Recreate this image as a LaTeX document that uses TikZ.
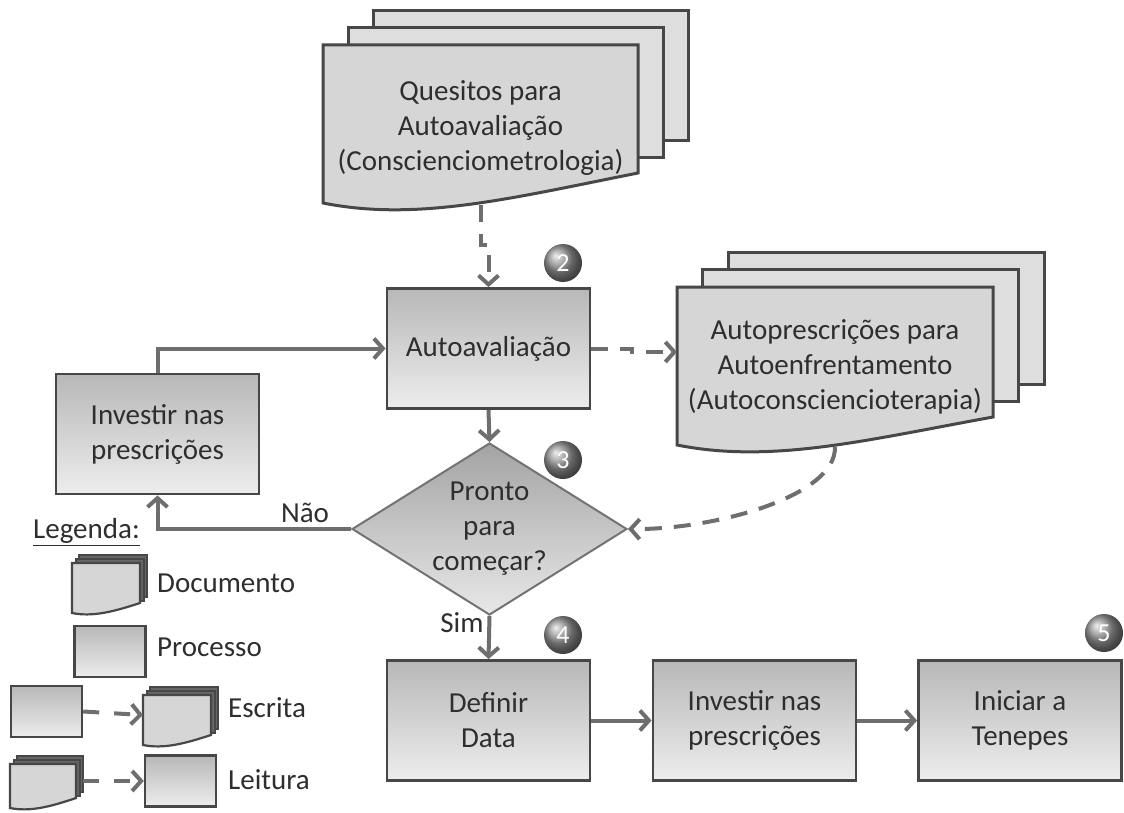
\documentclass[tikz,border=0pt]{standalone}
\usepackage{fontspec}
\setmainfont{Carlito}
\usetikzlibrary{arrows.meta,shapes.geometric,calc}
\newcommand{\mainfs}{\fontsize{29}{35}\selectfont}
\newcommand{\docstack}[8]{% #1 name, #2 L, #3 T, #4 W, #5 Hl, #6 Hr, #7 dx, #8 dy
  \foreach \k in {2,1}{
    \filldraw[docback] ({#2+\k*#7},{#3+\k*#8}) rectangle ++(#4,{#6+2});
  }
  \filldraw[docfront] (#2,#3) -- ++(#4,0) -- ++(0,#6)
    .. controls ({#2+0.6*#4},{#3+#5-0.016*#4}) and ({#2+0.3*#4},{#3+#5+0.06*#4}) .. (#2,{#3+#5}) -- cycle;
  \coordinate (#1-b) at ({#2+0.5*#4},{#3+#5+2});
  \coordinate (#1-w) at (#2,{#3+0.5*#6});
  \coordinate (#1-e) at ({#2+#4+2*#7},{#3+0.5*#6});
}
\begin{document}
\begin{tikzpicture}[x=1pt,y=-1pt,
  linecol/.style={draw=black!57},
  arr/.style={linecol, line width=4pt, -{Straight Barb[length=9pt,width=20pt]}},
  dasharr/.style={arr, dash pattern=on 17pt off 12pt},
  proc/.style={rectangle, draw=black!72, line width=2.8pt, top color=black!28, bottom color=black!7,
    minimum width=203pt, minimum height=120pt, inner sep=0pt, align=center, text=black!82, font=\mainfs},
  lproc/.style={proc, minimum width=71pt, minimum height=51pt, line width=2.4pt},
  dec/.style={diamond, draw=black!55, line width=2pt, top color=black!36, bottom color=black!9,
    minimum width=275pt, minimum height=172pt, shape aspect=1.6, inner sep=0pt, align=center,
    text=black!82, font=\mainfs},
  docback/.style={draw=black!72, line width=3pt, fill=black!13},
  docfront/.style={draw=black!72, line width=3pt, fill=black!16},
  doctext/.style={align=center, text=black!82, font=\mainfs, inner sep=0pt},
  lbl/.style={text=black!82, font=\mainfs, inner sep=0pt},
  ball/.style={circle, shading=ball, ball color=black!42, minimum size=38pt, inner sep=0pt,
    text=white, font=\fontsize{26}{26}\selectfont}
]
\fill[white] (0,0) rectangle (1124,813);
\useasboundingbox (0,0) rectangle (1124,813);

% documents
\docstack{ques}{323}{45}{315}{158}{128}{25}{-17}
\node[doctext] (quest) at (480.5,128) {Quesitos para\\Autoavaliação\\(Conscienciometrologia)};
\docstack{presc}{677}{287}{316}{158}{130}{25.5}{-17.5}
\node[doctext] (presct) at (835,367) {Autoprescrições para\\Autoenfrentamento\\(Autoconsciencioterapia)};

% process nodes
\node[proc] (aval) at (488.5,348.5) {Autoavaliação};
\node[proc] (inv1) at (157.5,434) {Investir nas\\prescrições};
\node[dec] (dia) at (489.5,529) {Pronto\\para\\começar?};
\node[proc] (def) at (488.5,720.5) {Definir\\Data};
\node[proc] (inv2) at (754.5,720.5) {Investir nas\\prescrições};
\node[proc] (ini) at (1020,720.5) {Iniciar a\\Tenepes};

% number balls
\node[ball] (n2) at (563,263) {2};
\node[ball] (n3) at (563,460) {3};
\node[ball] (n4) at (563,635) {4};
\node[ball] (n5) at (1104,633) {5};

% connectors
\draw[dasharr] (ques-b) -- ++(0,40) -| (aval.north);
\draw[dasharr] (aval.east) -- ++(41,0) |- (presc-w);
\draw[dasharr] (presc-b) .. controls (836,497) and (712,530) .. (dia.east);
\draw[arr] (aval.south) -- (dia.north);
\draw[arr] (dia.west) -| (inv1.south);
\draw[arr] (inv1.north) |- (aval.west);
\draw[arr] (dia.south) -- (def.north);
\draw[arr] (def.east) -- (inv2.west);
\draw[arr] (inv2.east) -- (ini.west);
\node[lbl] (nao) at (305,513) {Não};
\node[lbl] (sim) at (462,623) {Sim};

% legend
\node[lbl, anchor=west] (leg) at (33,532) {\underline{Legenda:}};
\begin{scope}[docback/.style={draw=black!72, line width=2pt, fill=black!60},
              docfront/.style={draw=black!72, line width=2.2pt, fill=black!16}]
  \docstack{ldoc}{72}{563}{68}{50}{40}{3.5}{-4}
  \docstack{lesd}{143}{695}{68}{50}{40}{3.5}{-4}
  \docstack{llei}{10}{764}{66}{44}{34}{3.5}{-4}
\end{scope}
\node[lbl, anchor=west] (ldoct) at (157,583) {Documento};
\node[lproc] (lpro) at (110,651.5) {};
\node[lbl, anchor=west] (lprot) at (157,647) {Processo};
\node[lproc] (lesp) at (46.5,711.5) {};
\draw[arr, dash pattern=on 16pt off 15pt] (lesp.east) -- (lesd-w);
\node[lbl, anchor=west] (lest) at (228,708) {Escrita};
\node[lproc] (lleb) at (180.5,781) {};
\draw[arr, dash pattern=on 16pt off 15pt] (llei-e) -- (lleb.west);
\node[lbl, anchor=west] (lleit) at (228,780) {Leitura};
\end{tikzpicture}
\end{document}
